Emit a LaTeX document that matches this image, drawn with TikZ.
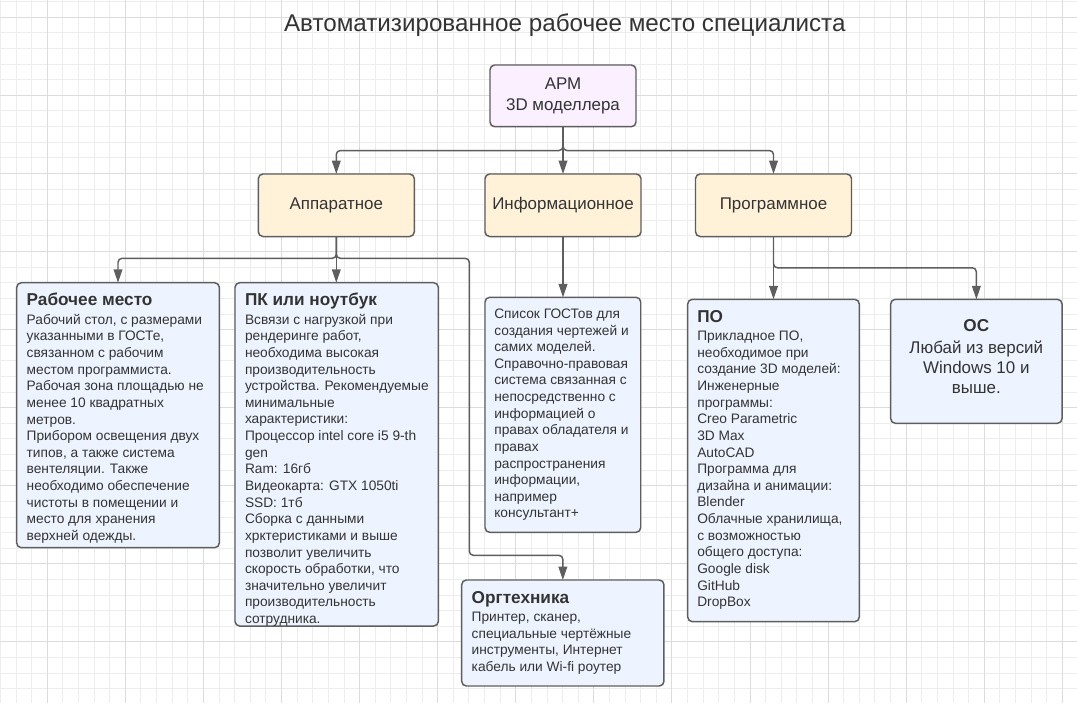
\documentclass[tikz,border=0pt]{standalone}
\usepackage{fontspec}
\setmainfont{Liberation Sans}
\usetikzlibrary{arrows.meta}
\definecolor{gridminor}{HTML}{EDEDED}
\definecolor{gridmajor}{HTML}{DCDCDC}
\definecolor{edge}{HTML}{5E5E5E}
\definecolor{txt}{HTML}{333333}
\definecolor{fillA}{HTML}{FAF0FF}
\definecolor{fillB}{HTML}{FFF2D9}
\definecolor{fillC}{HTML}{EDF4FF}
\begin{document}
\begin{tikzpicture}[x=0.75pt,y=-0.75pt,
  box/.style={draw=edge, line width=1.1pt, rounded corners=3.5pt, inner sep=0pt, outer sep=0pt, text=txt},
  lvltwo/.style={box, fill=fillB, minimum width=117pt, minimum height=46.9pt, font=\fontsize{12.7}{15.5}\selectfont},
  lvlthree/.style={box, fill=fillC, anchor=north west},
  conn/.style={draw=edge, line width=1.1pt, rounded corners=3pt, -{Triangle[length=10pt,width=6.5pt]}},
  bodytxt/.style={inner sep=0pt, outer sep=0pt, align=left, text=txt, anchor=base west, font=\fontsize{10.3}{12.47}\selectfont},
  headtxt/.style={inner sep=0pt, outer sep=0pt, text=txt, anchor=base west, font=\fontsize{12.9}{14}\selectfont\bfseries},
  ostxt/.style={inner sep=0pt, outer sep=0pt, align=center, text=txt, anchor=base, font=\fontsize{12.7}{15.1}\selectfont}
]
\useasboundingbox (0,0) rectangle (1077,703);
\fill[white] (0,0) rectangle (1077,703);
% grid
\foreach \i in {0,...,68} {\draw[gridminor, line width=0.75pt] ({0.452+\i*15.616},0) -- ({0.452+\i*15.616},703);}
\foreach \j in {0,...,44} {\draw[gridminor, line width=0.75pt] (0,{1.684+\j*15.616}) -- (1077,{1.684+\j*15.616});}
\foreach \i in {0,...,13} {\draw[gridmajor, line width=0.75pt] ({47.3+\i*78.08},0) -- ({47.3+\i*78.08},703);}
\foreach \j in {0,...,8} {\draw[gridmajor, line width=0.75pt] (0,{17.3+\j*78.08}) -- (1077,{17.3+\j*78.08});}

% title
\node[anchor=base, inner sep=0pt, text=txt, font=\fontsize{18.15}{22}\selectfont] (title) at (564.8,31.3) {Автоматизированное рабочее место специалиста};

% top and level two
\node[box, fill=fillA, minimum width=109.5pt, minimum height=46.3pt, align=center, font=\fontsize{12.7}{15.5}\selectfont] (arm) at (563,95.85) {АРМ\\3D моделлера};
\node[lvltwo] (app) at (336.3,205.25) {Аппаратное};
\node[lvltwo] (inf) at (563,205.25) {Информационное};
\node[lvltwo] (prog) at (773.5,205.25) {Программное};

% level three boxes
\node[lvlthree, minimum width=151.95pt, minimum height=198.75pt] (rab) at (16.7,282.7) {};
\node[lvlthree, minimum width=152.5pt, minimum height=257.5pt] (pc) at (235,282.7) {};
\node[lvlthree, minimum width=116.8pt, minimum height=176.25pt] (list) at (485,297.3) {};
\node[lvlthree, minimum width=151.7pt, minimum height=79.5pt] (org) at (461.7,580) {};
\node[lvlthree, minimum width=128.7pt, minimum height=241.8pt] (po) at (687.7,299.3) {};
\node[lvlthree, minimum width=128.5pt, minimum height=93pt] (os) at (890.7,299.3) {};

% texts (multi-line nodes are anchored at the baseline of their last line)
\node[headtxt] (rabh) at (26.7,305.7) {Рабочее место};
\node[bodytxt] (rabt) at (26.7,540.4) {Рабочий стол, с размерами\\указанными в ГОСТе,\\связанном с рабочим\\местом программиста.\\Рабочая зона площадью не\\менее 10 квадратных\\метров.\\Прибором освещения двух\\типов, а также система\\вентеляции. Также\\необходимо обеспечение\\чистоты в помещении и\\место для хранения\\верхней одежды.};

\node[headtxt] (pch) at (245,305.7) {ПК или ноутбук};
\node[bodytxt] (pct) at (245,623.5) {Всвязи с нагрузкой при\\рендеринге работ,\\необходима высокая\\производительность\\устройства. Рекомендуемые\\минимальные\\характеристики:\\Процессор intel core i5 9-th\\gen\\Ram: 16гб\\Видеокарта: GTX 1050ti\\SSD: 1тб\\Сборка с данными\\хрктеристиками и выше\\позволит увеличить\\скорость обработки, что\\значительно увеличит\\производительность\\сотрудника.};

\node[bodytxt] (listt) at (494.3,517.9) {Список ГОСТов для\\создания чертежей и\\самих моделей.\\Справочно-правовая\\система связанная с\\непосредственно с\\информацией о\\правах обладателя и\\правах\\распространения\\информации,\\например\\консультант+};

\node[headtxt] (orgh) at (471.7,603.3) {Оргтехника};
\node[bodytxt] (orgt) at (471.7,671.6) {Принтер, сканер,\\специальные чертёжные\\инструменты, Интернет\\кабель или Wi-fi роутер};

\node[headtxt] (poh) at (697.3,322) {ПО};
\node[bodytxt] (pot) at (697.3,606.7) {Прикладное ПО,\\необходимое при\\создание 3D моделей:\\Инженерные\\программы:\\Creo Parametric\\3D Max\\AutoCAD\\Программа для\\дизайна и анимации:\\Blender\\Облачные хранилища,\\с возможностью\\общего доступа:\\Google disk\\GitHub\\DropBox};

\node[headtxt, anchor=base] (osh) at (976.3,331.7) {ОС};
\node[ostxt] (ost) at (976.3,393.8) {Любай из версий\\Windows 10 и\\выше.};

% connectors
\coordinate (j1) at (469.3,258.3);
\coordinate (j2) at (469.3,555.3);
\draw[conn] (arm.south) -- ++(0,23.8) -| (app.north);
\draw[conn] (arm.south) -- (inf.north);
\draw[conn] (arm.south) -- ++(0,23.8) -| (prog.north);
\draw[conn] (app.south) -- ++(0,21.8) -| (rab.north);
\draw[conn] (app.south) -- (app.south |- pc.north);
\draw[conn] (app.south) |- (j1) -- (j2) -| (org.north);
\draw[conn] (inf.south) -- (inf.south |- list.north);
\draw[conn] (prog.south) -- (prog.south |- po.north);
\draw[conn] (prog.south) -- ++(0,31.3) -| (os.north);
\end{tikzpicture}
\end{document}
